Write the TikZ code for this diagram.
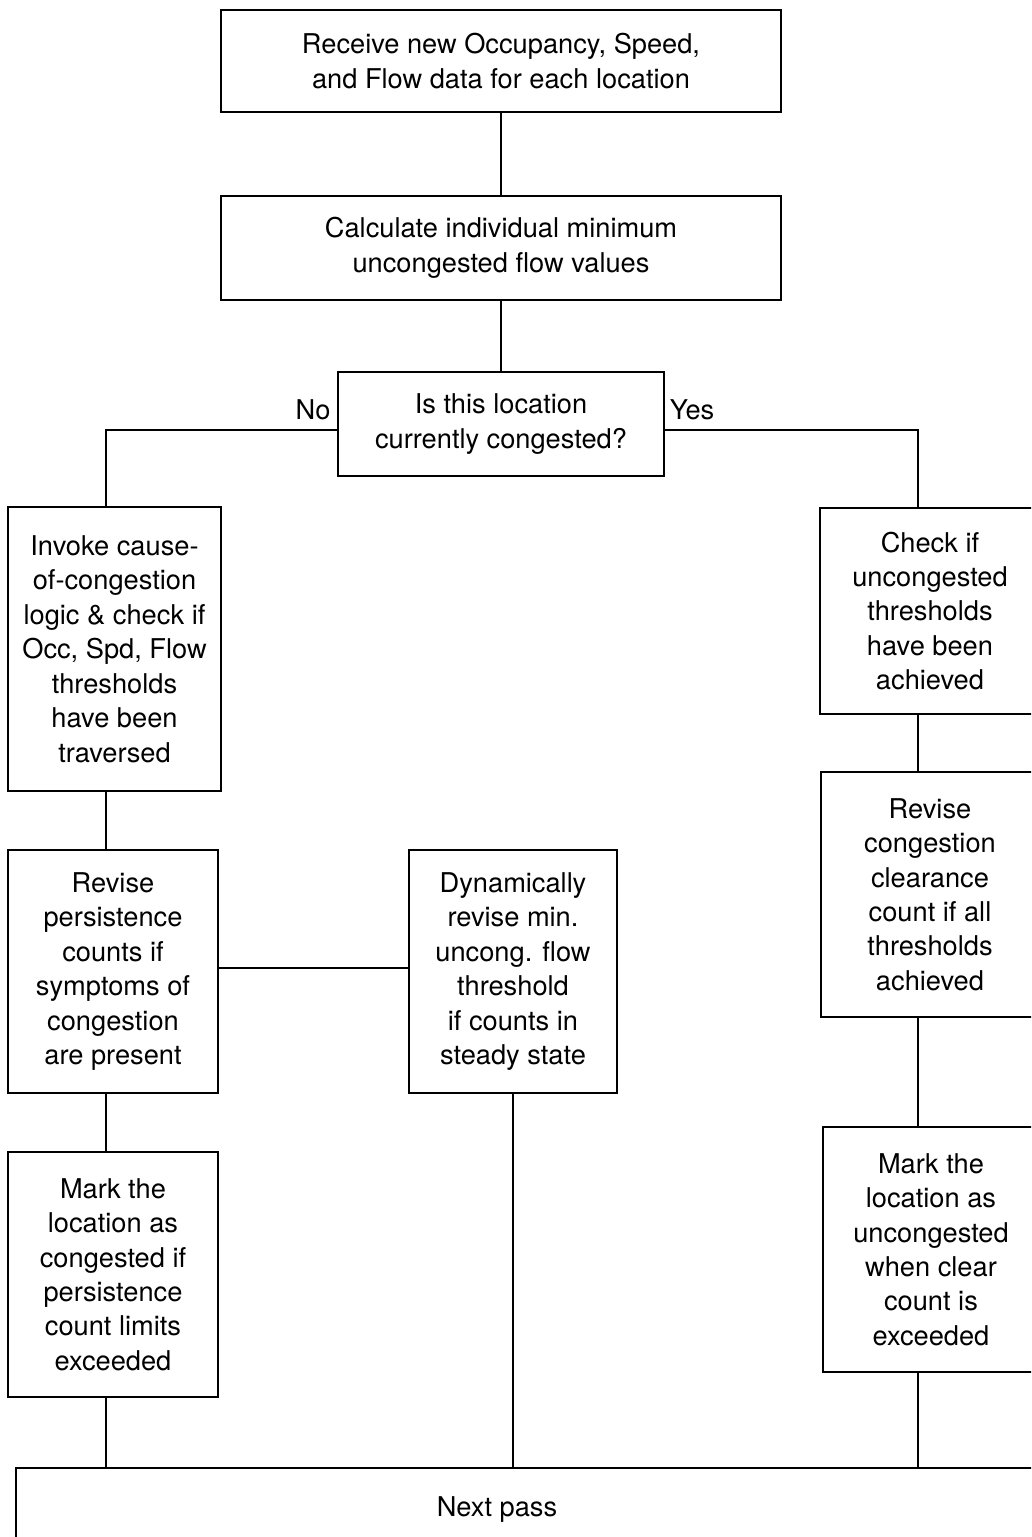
\documentclass[tikz,border=0pt]{standalone}
\usepackage{fontspec}
\setmainfont{TeX Gyre Heros}
\usepackage{tikz}

\begin{document}
\begin{tikzpicture}[x=0.02cm, y=-0.02cm,
    stepbox/.style={draw, line width=1.5pt, align=center, inner sep=0pt, font=\fontsize{15.5}{19.6}\selectfont},
    tag/.style={font=\fontsize{15.5}{19.6}\selectfont},
    link/.style={line width=1.4pt}]
    \useasboundingbox (0,0) rectangle (1031,1537);
    \clip (0,0) rectangle (1031,1537);

    % Columns for the vertical links
    \coordinate (lcol) at (106,0);
    \coordinate (rcol) at (918,0);

    % Top of the chart
    \node[stepbox, minimum width=11.2cm, minimum height=2.04cm] (recv) at (501,61) {Receive new Occupancy, Speed,\\and Flow data for each location};
    \node[stepbox, minimum width=11.2cm, minimum height=2.08cm] (calc) at (501,248) {Calculate individual minimum\\uncongested flow values};
    \node[stepbox, minimum width=6.52cm, minimum height=2.08cm] (ask) at (501,424) {Is this location\\currently congested?};
    \node[tag] (no) at (313,410) {No};
    \node[tag] (yes) at (692,410) {Yes};

    % Left branch
    \node[stepbox, minimum width=4.26cm, minimum height=5.68cm] (invoke) at (114.5,649) {Invoke cause-\\of-congestion\\logic \& check if\\Occ, Spd, Flow\\thresholds\\have been\\traversed};
    \node[stepbox, minimum width=4.2cm, minimum height=4.86cm] (revp) at (113,971.5) {Revise\\persistence\\counts if\\symptoms of\\congestion\\are present};
    \node[stepbox, minimum width=4.2cm, minimum height=4.9cm] (markc) at (113,1274.5) {Mark the\\location as\\congested if\\persistence\\count limits\\exceeded};

    % Middle
    \node[stepbox, minimum width=4.16cm, minimum height=4.86cm] (dyn) at (513,971.5) {Dynamically\\revise min.\\uncong. flow\\threshold\\if counts in\\steady state};

    % Right branch
    \node[stepbox, minimum width=4.4cm, minimum height=4.12cm] (check) at (930,611) {Check if\\uncongested\\thresholds\\have been\\achieved};
    \node[stepbox, minimum width=4.36cm, minimum height=4.9cm] (revc) at (930,894.5) {Revise\\congestion\\clearance\\count if all\\thresholds\\achieved};
    \node[stepbox, minimum width=4.32cm, minimum height=4.9cm] (marku) at (931,1249.5) {Mark the\\location as\\uncongested\\when clear\\count is\\exceeded};

    % Bottom
    \node[stepbox, minimum width=20.88cm, minimum height=1.84cm] (next) at (538,1514) {};
    \node[tag] (nexttext) at (497,1510) {Next pass};

    % Links
    \draw[link] (recv) -- (calc);
    \draw[link] (calc) -- (ask);
    \draw[link] ([yshift=-0.12cm]ask.west) -| (invoke.north -| lcol);
    \draw[link] ([yshift=-0.12cm]ask.east) -| (check.north -| rcol);
    \draw[link] (invoke.south -| lcol) -- (revp.north -| lcol);
    \draw[link] ([yshift=0.07cm]revp.east) -- ([yshift=0.07cm]dyn.west);
    \draw[link] (revp.south -| lcol) -- (markc.north -| lcol);
    \draw[link] (markc.south -| lcol) -- (next.north -| lcol);
    \draw[link] (dyn.south) -- (next.north -| dyn.south);
    \draw[link] (check.south -| rcol) -- (revc.north -| rcol);
    \draw[link] (revc.south -| rcol) -- (marku.north -| rcol);
    \draw[link] (marku.south -| rcol) -- (next.north -| rcol);
\end{tikzpicture}
\end{document}
